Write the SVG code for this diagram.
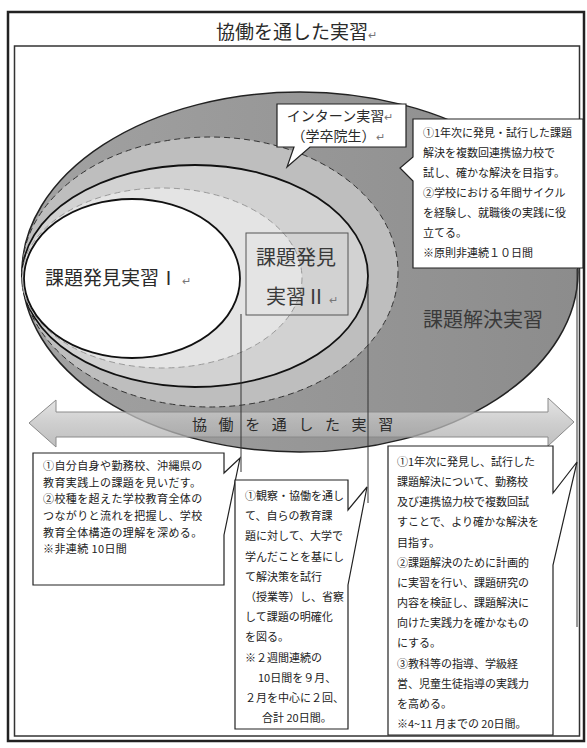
<svg xmlns="http://www.w3.org/2000/svg" width="587" height="748" viewBox="0 0 587 748">
<style>
text{font-family:"Noto Sans CJK JP","Noto Sans",sans-serif;fill:#2a2a2a}
.big{font-size:20px;fill:#3a3a3a}
.sm{font-size:11px;fill:#222}
.cb{fill:#fff;stroke:#222;stroke-width:1.2}
.pm{font-size:11px;fill:#777}
.conn{stroke:#333;stroke-width:1;fill:none}
</style>
<defs>
<linearGradient id="arrowG" x1="0" y1="0" x2="0" y2="1">
<stop offset="0" stop-color="#dcdcdc"/>
<stop offset="0.5" stop-color="#bfbfbf"/>
<stop offset="1" stop-color="#a9a9a9"/>
</linearGradient>
<linearGradient id="outerG" x1="0" y1="0" x2="1" y2="0">
<stop offset="0" stop-color="#a2a2a2"/>
<stop offset="1" stop-color="#8c8c8c"/>
</linearGradient>
</defs>
<g id="frame">
<rect x="8" y="12" width="576" height="729" fill="#fff" stroke="#222" stroke-width="2.5"/>
<rect x="14.5" y="46" width="565" height="690" fill="none" stroke="#333" stroke-width="1.5"/>
</g>
<g id="title">
<text x="216" y="39" font-size="19" fill="#444">協働を通した実習<tspan class="pm" font-size="12">↵</tspan></text>
</g>
<g id="kadai-kaiketsu">
<ellipse cx="300" cy="272" rx="278" ry="180" fill="url(#outerG)" stroke="#222" stroke-width="1.5"/>
<text class="big" x="423" y="327">課題解決実習</text>
</g>
<g id="intern">
<ellipse cx="210" cy="272" rx="188" ry="135" fill="#bebebe" stroke="#333" stroke-width="1" stroke-dasharray="6 4"/>
</g>
<g id="kadai-hakken-2">
<ellipse cx="195" cy="276" rx="173" ry="111" fill="#d2d2d2" stroke="#111" stroke-width="1.8"/>
</g>
<g id="inner-light">
<ellipse cx="162" cy="278" rx="140" ry="90" fill="#e4e4e4" stroke="#9a9a9a" stroke-width="1" stroke-dasharray="6 4"/>
</g>
<g id="kadai-hakken-1">
<ellipse cx="132" cy="278.5" rx="108" ry="79.5" fill="#fff" stroke="#111" stroke-width="1.8"/>
<text x="45" y="285" font-size="19" fill="#3a3a3a">課題発見実習Ⅰ<tspan class="pm" font-size="11" dx="4">↵</tspan></text>
</g>
<g id="kadai-hakken-2-label">
<rect x="246" y="233" width="102" height="82" fill="none" stroke="#555" stroke-width="1"/>
<text class="big" x="256" y="265">課題発見</text>
<text class="big" x="266" y="304">実習Ⅱ<tspan class="pm" font-size="11" dx="3">↵</tspan></text>
</g>
<g id="arrow">
<polygon points="29,423 56,400 56,412 548,412 548,398 574,422 548,446 548,437 56,437 56,447" fill="url(#arrowG)" fill-opacity="0.75" stroke="#8a8a8a" stroke-width="1"/>
<text x="192" y="430" font-size="15" letter-spacing="11.6" fill="#444">協働を通した実習</text>
</g>
<g id="connectors">
<line class="conn" x1="241" y1="314" x2="241" y2="472"/>
<line class="conn" x1="368" y1="284" x2="368" y2="503"/>
<line class="conn" x1="577" y1="269" x2="577" y2="627"/>
</g>
<g id="callout-intern">
<path class="cb" d="M277,104 H406 V147 H310 L287,167 L294,147 H277 Z"/>
<text x="340" y="121" font-size="14" text-anchor="middle" fill="#444">インターン実習<tspan class="pm" font-size="10">↵</tspan></text>
<text x="338" y="141" font-size="14" text-anchor="middle" fill="#444">（学卒院生）<tspan class="pm" font-size="10">↵</tspan></text>
</g>
<g id="callout-intern-desc">
<path class="cb" d="M413,119 H583 V268 H413 V181 L400,168 L413,157 Z"/>
<text class="sm" x="423" y="137">①1年次に発見・試行した課題</text>
<text class="sm" x="423" y="157">解決を複数回連携協力校で</text>
<text class="sm" x="423" y="177">試し、確かな解決を目指す。</text>
<text class="sm" x="423" y="197">②学校における年間サイクル</text>
<text class="sm" x="423" y="217">を経験し、就職後の実践に役</text>
<text class="sm" x="423" y="237">立てる。</text>
<text class="sm" x="423" y="257">※原則非連続１０日間</text>
</g>
<g id="callout-hakken-1">
<path class="cb" d="M33,453 H224 V473 L240,458 L224,535 V585 H33 Z"/>
<text class="sm" x="43" y="470" font-size="11.3" letter-spacing="0.4">①自分自身や勤務校、沖縄県の</text>
<text class="sm" x="43" y="487" font-size="11.3" letter-spacing="0.4">教育実践上の課題を見いだす。</text>
<text class="sm" x="43" y="503" font-size="11.3" letter-spacing="0.4">②校種を超えた学校教育全体の</text>
<text class="sm" x="43" y="520" font-size="11.3" letter-spacing="0.4">つながりと流れを把握し、学校</text>
<text class="sm" x="43" y="537" font-size="11.3" letter-spacing="0.4">教育全体構造の理解を深める。</text>
<text class="sm" x="43" y="553" font-size="11.3" letter-spacing="0.4">※非連続 10日間</text>
</g>
<g id="callout-hakken-2">
<path class="cb" d="M235,480 H348 V510 L367,487 L348,585 V729 H235 Z"/>
<text class="sm" x="245" y="500">①観察・協働を通し</text>
<text class="sm" x="245" y="520">て、自らの教育課</text>
<text class="sm" x="245" y="540">題に対して、大学で</text>
<text class="sm" x="245" y="561">学んだことを基にし</text>
<text class="sm" x="245" y="581">て解決策を試行</text>
<text class="sm" x="245" y="601">（授業等）し、省察</text>
<text class="sm" x="245" y="621">して課題の明確化</text>
<text class="sm" x="245" y="641">を図る。</text>
<text class="sm" x="245" y="662">※２週間連続の</text>
<text class="sm" x="258" y="682">10日間を９月、</text>
<text class="sm" x="245" y="702">２月を中心に２回、</text>
<text class="sm" x="262" y="722">合計 20日間。</text>
</g>
<g id="callout-kaiketsu">
<path class="cb" d="M388,446 H553 V493 L577,462 L553,565 V735 H388 Z"/>
<text class="sm" x="397" y="466">①1年次に発見し、試行した</text>
<text class="sm" x="397" y="486">課題解決について、勤務校</text>
<text class="sm" x="397" y="506">及び連携協力校で複数回試</text>
<text class="sm" x="397" y="526">すことで、より確かな解決を</text>
<text class="sm" x="397" y="547">目指す。</text>
<text class="sm" x="397" y="567">②課題解決のために計画的</text>
<text class="sm" x="397" y="587">に実習を行い、課題研究の</text>
<text class="sm" x="397" y="607">内容を検証し、課題解決に</text>
<text class="sm" x="397" y="627">向けた実践力を確かなもの</text>
<text class="sm" x="397" y="647">にする。</text>
<text class="sm" x="397" y="668">③教科等の指導、学級経</text>
<text class="sm" x="397" y="688">営、児童生徒指導の実践力</text>
<text class="sm" x="397" y="708">を高める。</text>
<text class="sm" x="397" y="728">※4~11 月までの 20日間。</text>
</g>
</svg>
